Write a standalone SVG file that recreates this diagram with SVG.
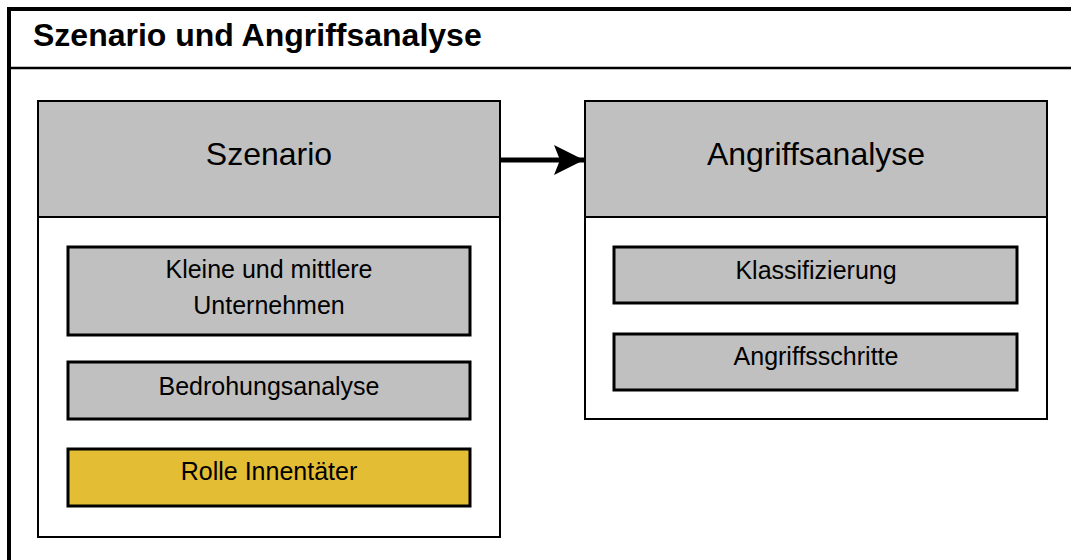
<svg xmlns="http://www.w3.org/2000/svg" width="1071" height="560" viewBox="0 0 1071 560">
  <style>
    .frame { fill: #ffffff; stroke: #000000; stroke-width: 4; }
    .sep { stroke: #000000; stroke-width: 2.5; fill: none; }
    .box { fill: #ffffff; stroke: #000000; stroke-width: 2; }
    .head { fill: #c0c0c0; stroke: #000000; stroke-width: 2; }
    .item { fill: #c0c0c0; stroke: #000000; stroke-width: 3; }
    .hl { fill: #e3bd33; stroke: #000000; stroke-width: 3; }
    .title { font-family: "Liberation Sans", Arial, sans-serif; font-size: 32px; font-weight: bold; fill: #000000; }
    .htext { font-family: "Liberation Sans", Arial, sans-serif; font-size: 32px; fill: #000000; text-anchor: middle; }
    .itext { font-family: "Liberation Sans", Arial, sans-serif; font-size: 25px; fill: #000000; text-anchor: middle; }
    .conn { stroke: #000000; stroke-width: 5; fill: none; }
  </style>
  <defs>
    <marker id="arrow" markerWidth="6" markerHeight="6" refX="6" refY="3" orient="auto" markerUnits="strokeWidth">
      <path d="M0,0 L6,3 L0,6 L1.2,3 Z" fill="#000000"/>
    </marker>
  </defs>
  <rect width="1071" height="560" fill="#ffffff"/>

  <!-- outer frame with title bar -->
  <g id="frame">
    <rect class="frame" x="9" y="9" width="1080" height="570"/>
    <line class="sep" x1="9" y1="68" x2="1071" y2="68"/>
    <text class="title" x="33" y="46">Szenario und Angriffsanalyse</text>
  </g>

  <!-- Szenario -->
  <g id="szenario">
    <rect class="box" x="38" y="101" width="462" height="436"/>
    <rect class="head" x="38" y="101" width="462" height="116"/>
    <text class="htext" x="269" y="165">Szenario</text>
  </g>
  <g id="kmu">
    <rect class="item" x="68" y="247" width="402" height="88"/>
    <text class="itext" x="269" y="278">Kleine und mittlere</text>
    <text class="itext" x="269" y="314">Unternehmen</text>
  </g>
  <g id="bedrohungsanalyse">
    <rect class="item" x="68" y="362" width="402" height="57"/>
    <text class="itext" x="269" y="395">Bedrohungsanalyse</text>
  </g>
  <g id="innentaeter">
    <rect class="hl" x="68" y="449" width="402" height="57"/>
    <text class="itext" x="269" y="480">Rolle Innentäter</text>
  </g>

  <!-- Angriffsanalyse -->
  <g id="angriffsanalyse">
    <rect class="box" x="585" y="101" width="462" height="318"/>
    <rect class="head" x="585" y="101" width="462" height="116"/>
    <text class="htext" x="816" y="165">Angriffsanalyse</text>
  </g>
  <g id="klassifizierung">
    <rect class="item" x="614" y="247" width="403" height="56"/>
    <text class="itext" x="816" y="279">Klassifizierung</text>
  </g>
  <g id="angriffsschritte">
    <rect class="item" x="614" y="334" width="403" height="56"/>
    <text class="itext" x="816" y="365">Angriffsschritte</text>
  </g>

  <!-- connectors -->
  <g id="connectors">
    <line class="conn" x1="500" y1="160" x2="584" y2="160" marker-end="url(#arrow)"/>
  </g>
</svg>
